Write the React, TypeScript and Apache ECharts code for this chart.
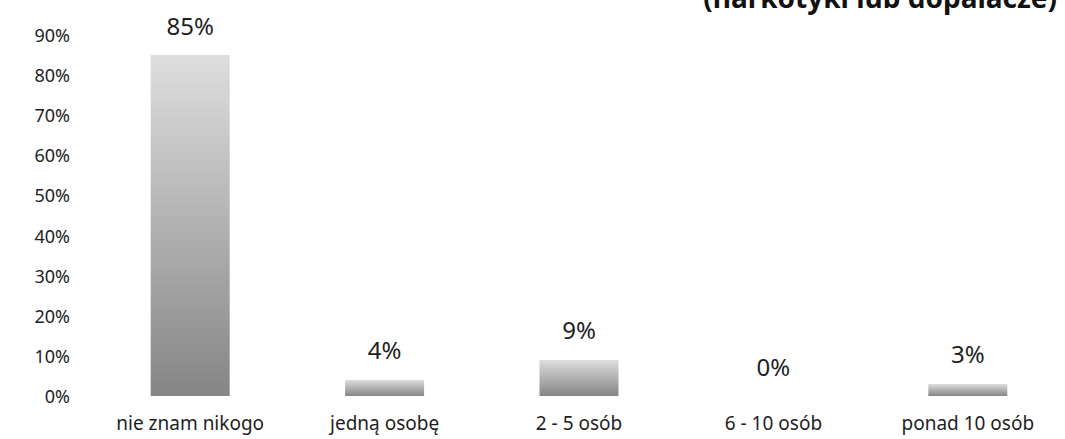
import React, { useEffect, useRef } from "react";
import * as echarts from "echarts";

const categories = ["nie znam nikogo", "jedną osobę", "2 - 5 osób", "6 - 10 osób", "ponad 10 osób"];
const values = [85, 4, 9, 0, 3];
const yTicks = [0, 10, 20, 30, 40, 50, 60, 70, 80, 90];
const titleText = "(narkotyki lub dopalacze)";

export default function App() {
  const ref = useRef<HTMLDivElement>(null);
  useEffect(() => {
    if (!ref.current) return;
    const chart = echarts.init(ref.current, null, { renderer: "svg" });
    const font = "'Noto Sans', 'Open Sans', sans-serif";
    chart.setOption({
      animation: false,
      backgroundColor: "#ffffff",
      graphic: [
        {
          type: "text",
          right: 8,
          top: -17,
          style: {
            text: titleText,
            fontFamily: font,
            fontWeight: "bold",
            fontSize: 28,
            fill: "#111",
          },
        },
      ],
      grid: { left: 93, top: 35, width: 990, height: 361 },
      xAxis: {
        type: "category",
        data: categories,
        axisLine: { show: false },
        axisTick: { show: false },
        axisLabel: { fontFamily: font, fontSize: 19, color: "#1e1e1e", margin: 17 },
      },
      yAxis: {
        type: "value",
        min: yTicks[0],
        max: yTicks[yTicks.length - 1],
        interval: 10,
        splitLine: { show: false },
        axisLine: { show: false },
        axisTick: { show: false },
        axisLabel: {
          fontFamily: font,
          fontSize: 18,
          color: "#1e1e1e",
          margin: 23,
          formatter: (v: number) => v + "%",
        },
      },
      series: [
        {
          type: "bar",
          data: values,
          barWidth: 79,
          itemStyle: {
            color: new echarts.graphic.LinearGradient(0, 0, 0, 1, [
              { offset: 0, color: "#dedede" },
              { offset: 1, color: "#858585" },
            ]),
          },
          label: {
            show: true,
            position: "top",
            distance: 18,
            fontFamily: font,
            fontSize: 24,
            color: "#1e1e1e",
            formatter: (p: any) => p.value + "%",
          },
        },
      ],
    });
    return () => chart.dispose();
  }, []);
  return <div ref={ref} style={{ width: 1065, height: 439, position: "absolute", left: 0, top: 0 }} />;
}
